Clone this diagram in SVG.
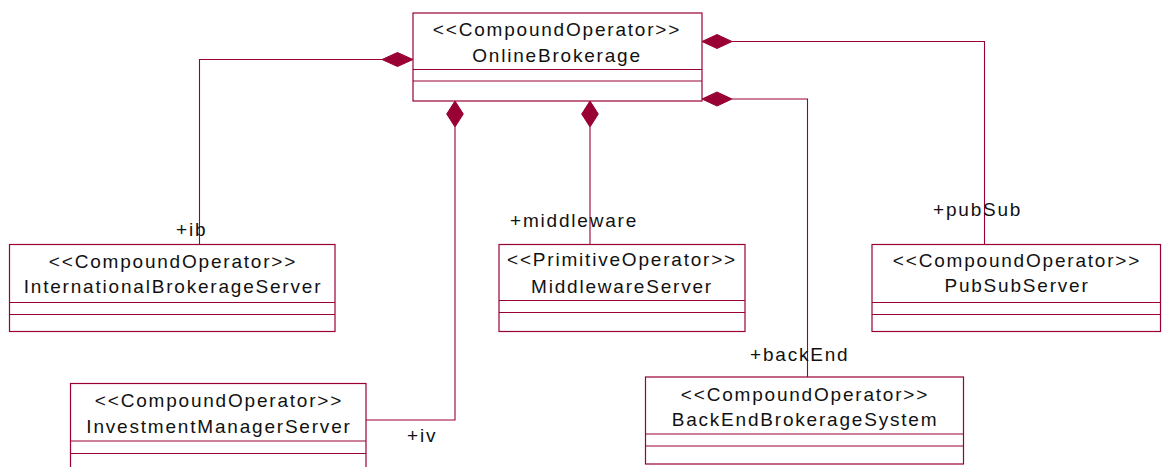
<svg xmlns="http://www.w3.org/2000/svg" width="1163" height="467" viewBox="0 0 1163 467">
<defs>
<style>
.box{fill:#ffffff;stroke:#990033;stroke-width:1.2}
.div{stroke:#990033;stroke-width:1.2;fill:none}
.t{font-family:"Liberation Sans",Arial,sans-serif;font-size:19px;letter-spacing:1.8px;fill:#111111;text-anchor:middle}
.lbl{font-family:"Liberation Sans",Arial,sans-serif;font-size:19px;letter-spacing:1.8px;fill:#111111}
.conn{stroke:#990033;stroke-width:1.1;fill:none}
.dia{fill:#990033;stroke:#990033;stroke-width:1}
</style>
</defs>
<rect width="1163" height="467" fill="#ffffff"/>
<g id="connectors">
<path class="conn" d="M382,59.5 H199.5 V244.5"/>
<path class="dia" d="M413,59.5 L397.5,52.5 L382,59.5 L397.5,66.5 Z"/>
<path class="conn" d="M455,127 V420 H366"/>
<path class="dia" d="M455,101 L463.3,114 L455,127 L446.7,114 Z"/>
<path class="conn" d="M590,127 V244.5"/>
<path class="dia" d="M590,101 L598.3,114 L590,127 L581.7,114 Z"/>
<path class="conn" d="M732,41.5 H984.5 V244.5"/>
<path class="dia" d="M702,41.5 L717,34.5 L732,41.5 L717,48.5 Z"/>
<path class="conn" d="M732,99 H807.5 V377"/>
<path class="dia" d="M702,99 L717,92 L732,99 L717,106 Z"/>
<text class="lbl" x="176" y="236">+ib</text>
<text class="lbl" x="510" y="227">+middleware</text>
<text class="lbl" x="933" y="216">+pubSub</text>
<text class="lbl" x="750" y="361">+backEnd</text>
<text class="lbl" x="407" y="442">+iv</text>
</g>
<g id="OnlineBrokerage">
<rect class="box" x="413" y="13" width="289" height="88"/>
<line class="div" x1="413" y1="69.5" x2="702" y2="69.5"/>
<line class="div" x1="413" y1="81" x2="702" y2="81"/>
<text class="t" x="557" y="36">&lt;&lt;CompoundOperator&gt;&gt;</text>
<text class="t" x="557" y="62">OnlineBrokerage</text>
</g>
<g id="InternationalBrokerageServer">
<rect class="box" x="9.5" y="244.5" width="325.5" height="87"/>
<line class="div" x1="9.5" y1="302.5" x2="335" y2="302.5"/>
<line class="div" x1="9.5" y1="314.5" x2="335" y2="314.5"/>
<text class="t" x="173" y="268">&lt;&lt;CompoundOperator&gt;&gt;</text>
<text class="t" x="173" y="293">InternationalBrokerageServer</text>
</g>
<g id="MiddlewareServer">
<rect class="box" x="499" y="244.5" width="246" height="87"/>
<line class="div" x1="499" y1="300.5" x2="745" y2="300.5"/>
<line class="div" x1="499" y1="312.5" x2="745" y2="312.5"/>
<text class="t" x="622" y="266">&lt;&lt;PrimitiveOperator&gt;&gt;</text>
<text class="t" x="622" y="293">MiddlewareServer</text>
</g>
<g id="PubSubServer">
<rect class="box" x="872" y="244.5" width="288.5" height="87"/>
<line class="div" x1="872" y1="302.5" x2="1160.5" y2="302.5"/>
<line class="div" x1="872" y1="314.5" x2="1160.5" y2="314.5"/>
<text class="t" x="1017" y="267">&lt;&lt;CompoundOperator&gt;&gt;</text>
<text class="t" x="1017" y="292">PubSubServer</text>
</g>
<g id="BackEndBrokerageSystem">
<rect class="box" x="645.5" y="377" width="318" height="87"/>
<line class="div" x1="645.5" y1="434" x2="963.5" y2="434"/>
<line class="div" x1="645.5" y1="446" x2="963.5" y2="446"/>
<text class="t" x="805" y="401">&lt;&lt;CompoundOperator&gt;&gt;</text>
<text class="t" x="805" y="426">BackEndBrokerageSystem</text>
</g>
<g id="InvestmentManagerServer">
<rect class="box" x="70.5" y="383.5" width="295.5" height="90"/>
<line class="div" x1="70.5" y1="441" x2="366" y2="441"/>
<line class="div" x1="70.5" y1="453.5" x2="366" y2="453.5"/>
<text class="t" x="219" y="407">&lt;&lt;CompoundOperator&gt;&gt;</text>
<text class="t" x="219" y="433">InvestmentManagerServer</text>
</g>
</svg>
